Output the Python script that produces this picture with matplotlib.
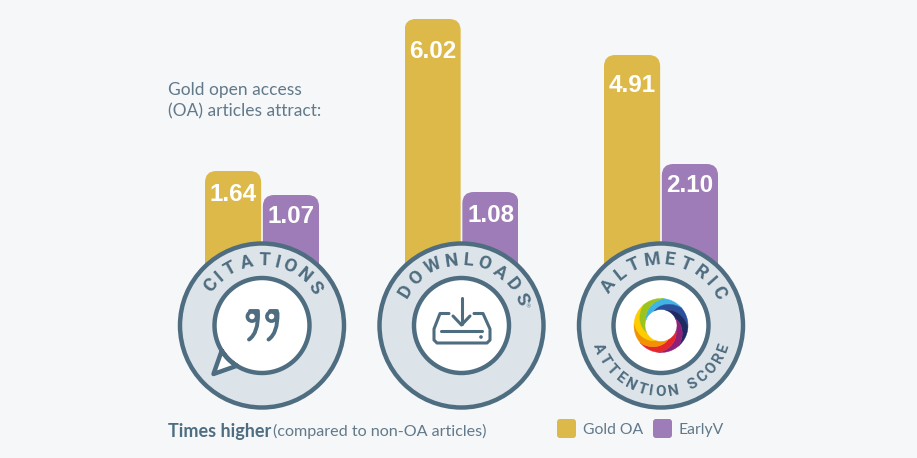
import matplotlib
matplotlib.use('Agg')
import matplotlib.pyplot as plt
import numpy as np
from matplotlib.font_manager import FontProperties
from matplotlib.patches import Circle, FancyBboxPatch, Polygon, PathPatch
from matplotlib.path import Path
from matplotlib.textpath import TextPath

W, H = 917, 458

# values printed on the bars
gold_values = [1.64, 6.02, 4.91]
early_values = [1.07, 1.08, 2.10]

# badge labels
top_labels = ['CITATIONS', 'DOWNLOADS', 'ALTMETRIC']
bottom_label = 'ATTENTION SCORE'
legend_labels = ['Gold OA', 'EarlyV']

# colours
BG = '#F5F7F9'
GOLD = '#DDB94A'
PURPLE = '#9E7CB7'
RING = '#DCE4EA'
DARK = '#4F6D80'
GREY = '#62798A'

centers = [262, 461.5, 661]
cy = 325.5
# top pixel of gold and purple bar in each group, each group has its own scale
gold_top = [171, 19, 55]
early_top = [195, 192, 164]
label_drop = [(24, 22), (32, 23), (30, 22)]

SANS = 'Lato'
BADGE = FontProperties(family='Roboto', weight='bold')

fig = plt.figure(figsize=(W / 100, H / 100), dpi=100, facecolor=BG)


def rounded_bar(ax, x, value, width, color, aspect, radius):
    y0 = ax.get_ylim()[0]
    bar = FancyBboxPatch((x, y0), width, value - y0,
                         boxstyle=f'round,pad=0,rounding_size={radius}',
                         mutation_aspect=aspect, fc=color, ec='none')
    ax.add_patch(bar)


# bars, one axes per group
for i, c in enumerate(centers):
    slope = (early_top[i] - gold_top[i]) / (gold_values[i] - early_values[i])
    base = gold_top[i] + gold_values[i] * slope
    ax = fig.add_axes([(c - 57) / W, 1 - 320 / H, 114 / W, 320 / H])
    ax.set_xlim(0, 2)
    ax.set_ylim((base - 320) / slope, base / slope)
    ax.axis('off')
    aspect = 57 / slope
    rounded_bar(ax, 0, gold_values[i], 0.985, GOLD, aspect, 0.2)
    rounded_bar(ax, 1.015, early_values[i], 0.985, PURPLE, aspect, 0.2)
    for x, v, drop in [(0.49, gold_values[i], label_drop[i][0]),
                       (1.51, early_values[i], label_drop[i][1])]:
        ax.annotate(f'{v:.2f}', (x, v), xytext=(0, -drop * 0.72),
                    textcoords='offset points', ha='center', va='center',
                    color='white', fontsize=17.5, fontweight='bold',
                    family='Liberation Sans')

# overlay in pixel coordinates for badges and text
ov = fig.add_axes([0, 0, 1, 1])
ov.set_xlim(0, W)
ov.set_ylim(H, 0)
ov.axis('off')
ov.patch.set_alpha(0)


def curved_text(cx, label, radius, start_deg, end_deg, size, bottom=False):
    # letters keep their own widths, tracking is whatever fills the span
    px = size / 0.72
    widths = []
    for ch in label:
        if ch == ' ':
            widths.append(px * 0.3)
        else:
            widths.append(TextPath((0, 0), ch, size=px, prop=BADGE).get_extents().width)
    widths = np.array(widths)
    mids = np.r_[0, np.cumsum((widths[:-1] + widths[1:]) / 2)]
    span = np.radians(end_deg - start_deg) * radius
    track = (span - mids[-1]) / (len(label) - 1)
    angles = start_deg + np.degrees((mids + track * np.arange(len(label))) / radius)
    for ch, deg in zip(label, angles):
        if ch == ' ':
            continue
        a = np.radians(deg)
        x = cx + radius * np.sin(a)
        if bottom:
            y = cy + radius * np.cos(a)
            rot = deg
        else:
            y = cy - radius * np.cos(a)
            rot = -deg
        ov.text(x, y, ch, rotation=rot, rotation_mode='anchor', ha='center',
                va='center', fontsize=size, color=DARK, fontproperties=None,
                family='Roboto', fontweight='bold')


def stroke(points, lw=2.2):
    pts = np.array(points)
    ov.plot(pts[:, 0], pts[:, 1], color=DARK, lw=lw, solid_capstyle='round',
            solid_joinstyle='round')


for c in centers:
    ov.add_patch(Circle((c, cy), 82, fc=RING, ec=DARK, lw=3.2))

# citations: speech bubble
c = centers[0]
r = 47.5
t = np.radians(np.linspace(148, 122 - 360, 120))
arc = np.c_[c + r * np.cos(t), cy + r * np.sin(t)]
bubble = np.vstack([arc, [[213.5, 374]]])
ov.add_patch(Polygon(bubble, closed=True, fc='white', ec=DARK, lw=3.2, joinstyle='round'))
for dx in (0, 19.5):
    tail = Path([(258 + dx, 313), (258.5 + dx, 333), (249 + dx, 339.5)],
                [Path.MOVETO, Path.CURVE3, Path.CURVE3])
    ov.add_patch(PathPatch(tail, fc='none', ec=DARK, lw=2.8, capstyle='round'))
    stroke([(250 + dx, 311), (257.5 + dx, 311)], 2.8)
    ov.add_patch(Circle((252 + dx, 316.5), 4.6, fc='white', ec=DARK, lw=2.6))

# downloads: tray icon
c = centers[1]
ov.add_patch(Circle((c, cy), 47.5, fc='white', ec=DARK, lw=3.2))
stroke([(449, 313.5), (440, 313.5), (434, 329), (434, 340), (437, 343), (487, 343),
        (490, 340), (490, 329), (483, 313.5), (474, 313.5)])
stroke([(441, 331), (482, 331)])
stroke([(461.5, 298), (461.5, 324)])
stroke([(453, 316), (461.5, 325), (470, 316)])
ov.add_patch(Circle((481, 337), 1.8, fc=DARK, ec='none'))

# altmetric: swirl, outer edge of each colour runs inward and backward
c = centers[2]
ov.add_patch(Circle((c, cy), 47.5, fc='white', ec=DARK, lw=3.2))
swirl = ['#3FB5E5', '#2A4F9E', '#1F2A63', '#8E2079', '#E5262B', '#F39200', '#FFCC00', '#9DC31D']
R_OUT, R_IN, SHIFT = 27, 16, -75
for k, col in enumerate(swirl):
    a0 = -85 + k * 45
    a1 = a0 + 45
    rr = np.linspace(R_OUT, R_IN, 15)
    frac = np.linspace(0, 1, 15)
    outer = np.linspace(a0, a1, 20)
    inner = np.linspace(a1 + SHIFT, a0 + SHIFT, 20)
    edge1 = a1 + SHIFT * frac
    edge0 = a0 + SHIFT * frac[::-1]
    ang = np.radians(np.r_[outer, edge1, inner, edge0])
    rad = np.r_[np.full(20, R_OUT), rr, np.full(20, R_IN), rr[::-1]]
    pts = np.c_[c + rad * np.cos(ang), cy + rad * np.sin(ang)]
    ov.add_patch(Polygon(pts, closed=True, fc=col, ec=col, lw=0.3))

# curved labels
curved_text(centers[0], top_labels[0], 65, -52, 55, 13.5)
curved_text(centers[1], top_labels[1], 65.5, -58, 66, 13.5)
curved_text(centers[2], top_labels[2], 66, -53, 60, 13.5)
curved_text(centers[2], bottom_label, 66.5, -70, 71, 11, bottom=True)
ov.text(centers[1] + 66.5, cy - 18.5, '®', fontsize=4, color=DARK, ha='center', va='center')

# texts
ov.text(168, 90, 'Gold open access', fontsize=12.5, color=GREY, family=SANS, va='center')
ov.text(168, 111, '(OA) articles attract:', fontsize=12.5, color=GREY, family=SANS, va='center')
ov.text(168, 431, 'Times higher', fontsize=13, color=DARK, family=SANS,
        fontweight='bold', va='center')
ov.text(273, 431, '(compared to non-OA articles)', fontsize=11.6, color=GREY, family=SANS,
        va='center')

# legend
for x, col, lab in zip([557, 653], [GOLD, PURPLE], legend_labels):
    ov.add_patch(FancyBboxPatch((x + 2, 421), 15, 15, boxstyle='round,pad=2,rounding_size=3',
                                fc=col, ec='none'))
    ov.text(x + 26, 430, lab, fontsize=11.3, color=GREY, family=SANS, va='center')

fig.savefig('out.png', dpi=100, facecolor=BG)
